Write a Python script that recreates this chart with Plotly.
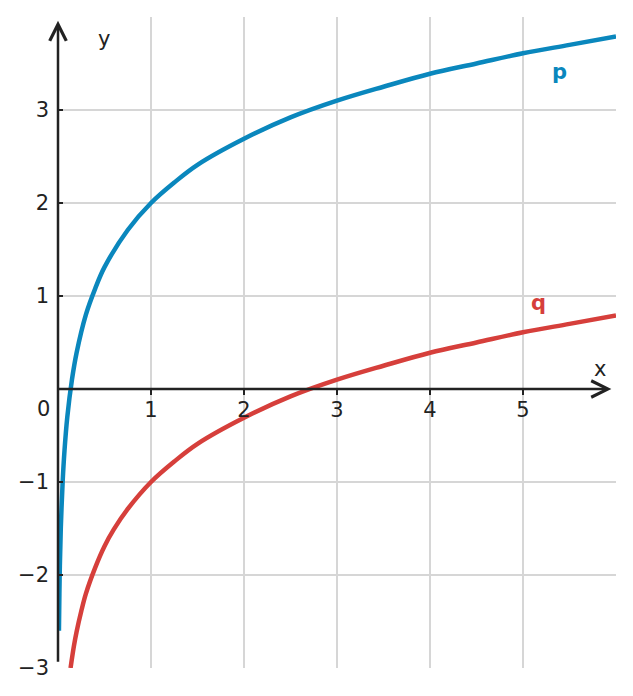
import plotly.graph_objects as go

# values
p_x = [0.01, 0.015, 0.02, 0.03, 0.05, 0.07, 0.1, 0.15, 0.2, 0.3, 0.4, 0.5, 0.75, 1, 1.25, 1.5, 2, 2.5, 3, 3.5, 4, 4.5, 5, 5.5, 6]
p_y = [-2.6, -2.2, -1.9, -1.5, -1.0, -0.66, -0.3, 0.1, 0.39, 0.8, 1.08, 1.31, 1.71, 2.0, 2.22, 2.41, 2.69, 2.92, 3.1, 3.25, 3.39, 3.5, 3.61, 3.7, 3.79]
q_x = [0.135, 0.17, 0.2, 0.25, 0.3, 0.4, 0.5, 0.6, 0.75, 1, 1.25, 1.5, 2, 2.5, 3, 3.5, 4, 4.5, 5, 5.5, 6]
q_y = [-3.0, -2.77, -2.61, -2.39, -2.2, -1.92, -1.69, -1.51, -1.29, -1.0, -0.78, -0.59, -0.31, -0.08, 0.1, 0.25, 0.39, 0.5, 0.61, 0.7, 0.79]

x_ticks = [1, 2, 3, 4, 5]
y_ticks = [-3, -2, -1, 1, 2, 3]
y_labels = ["\u22123", "\u22122", "\u22121", "1", "2", "3"]

blue = "#0a87bd"
red = "#d63f3b"
ink = "#222222"
font = dict(family="DejaVu Sans", size=21, color=ink)

fig = go.Figure()
fig.add_trace(go.Scatter(x=p_x, y=p_y, mode="lines", line=dict(color=blue, width=4.5, shape="spline"),
                         showlegend=False, hoverinfo="skip"))
fig.add_trace(go.Scatter(x=q_x, y=q_y, mode="lines", line=dict(color=red, width=4.5, shape="spline"),
                         showlegend=False, hoverinfo="skip"))

annotations = [
    # axes with arrows
    dict(x=5.95, y=0, ax=-0.01, ay=0, xref="x", yref="y", axref="x", ayref="y", text="",
         showarrow=True, arrowhead=5, arrowsize=1.3, arrowwidth=2.5, arrowcolor=ink),
    dict(x=0, y=3.96, ax=0, ay=-2.95, xref="x", yref="y", axref="x", ayref="y", text="",
         showarrow=True, arrowhead=5, arrowsize=1.3, arrowwidth=2.5, arrowcolor=ink),
    # labels
    dict(x=0.49, y=3.76, text="y", showarrow=False, font=font),
    dict(x=5.83, y=0.21, text="x", showarrow=False, font=font),
    dict(x=-0.042, y=0.398, xref="paper", yref="paper", text="0", showarrow=False, font=font),
    dict(x=5.39, y=3.41, text="<b>p</b>", showarrow=False, font=dict(family="DejaVu Sans", size=21, color=blue)),
    dict(x=5.17, y=0.92, text="<b>q</b>", showarrow=False, font=dict(family="DejaVu Sans", size=21, color=red)),
]

fig.update_layout(
    width=633, height=696,
    margin=dict(l=58, r=17, t=17, b=28),
    plot_bgcolor="white", paper_bgcolor="white",
    font=font,
    annotations=annotations,
    xaxis=dict(range=[0, 6], tickvals=x_ticks, showgrid=True, gridcolor="#d6d6d6", gridwidth=1.5,
               zeroline=False, showline=False, anchor="free", position=3 / 7,
               ticks="outside", ticklen=5, tickwidth=2, tickcolor=ink, tickfont=font, ticklabelstandoff=-3),
    yaxis=dict(range=[-3, 4], tickvals=y_ticks, ticktext=y_labels, showgrid=True, gridcolor="#d6d6d6",
               gridwidth=1.5, zeroline=False, showline=False,
               ticks="inside", ticklen=5, tickwidth=2, tickcolor=ink, tickfont=font, ticklabelstandoff=8),
)

fig.write_html("out.html", config={"displayModeBar": False},
               post_script="document.body.style.margin='0';")
